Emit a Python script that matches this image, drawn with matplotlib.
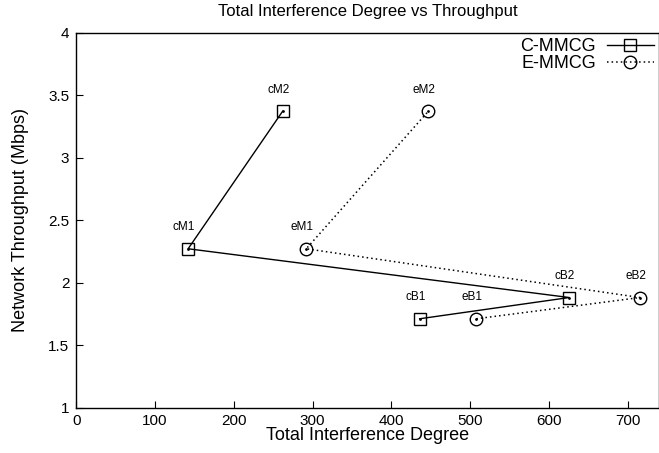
import matplotlib.pyplot as plt

plt.rcParams['font.family'] = ['Liberation Sans', 'DejaVu Sans']

# path order: B1 -> B2 -> M1 -> M2
c_names = ['cB1', 'cB2', 'cM1', 'cM2']
c_x = [436, 626, 142, 262]
c_y = [1.71, 1.88, 2.27, 3.37]

e_names = ['eB1', 'eB2', 'eM1', 'eM2']
e_x = [508, 716, 292, 447]
e_y = [1.71, 1.88, 2.27, 3.37]

x_ticks = [0, 100, 200, 300, 400, 500, 600, 700]
y_ticks = [1, 1.5, 2, 2.5, 3, 3.5, 4]

fig = plt.figure(figsize=(6.59, 4.53), dpi=100)
ax = fig.add_axes([0.1158, 0.1004, 0.8842, 0.8278])

ax.plot(c_x, c_y, color='black', linewidth=1.0, marker='s', markersize=9,
        markerfacecolor='none', markeredgecolor='black', markeredgewidth=1.0,
        label='C-MMCG')
ax.plot(e_x, e_y, color='black', linewidth=1.1, linestyle=(0, (1, 2)),
        marker='o', markersize=9, markerfacecolor='none',
        markeredgecolor='black', markeredgewidth=1.0, label='E-MMCG')
ax.plot(c_x + e_x, c_y + e_y, linestyle='none', marker='.', markersize=2,
        color='black')

for name, x, y in zip(c_names + e_names, c_x + e_x, c_y + e_y):
    ax.annotate(name, (x, y), xytext=(-3, 11), textcoords='offset points',
                ha='center', va='bottom', fontsize=8.5)

ax.set_xlim(0, 740)
ax.set_ylim(1, 4)
ax.set_xticks(x_ticks)
ax.set_yticks(y_ticks)
ax.set_yticklabels(['1', '1.5', '2', '2.5', '3', '3.5', '4'])
ax.tick_params(direction='in', length=5, labelsize=11, top=False, right=False,
               pad=5)
for s in ax.spines.values():
    s.set_linewidth(1.0)

ax.set_xlabel('Total Interference Degree', fontsize=13, labelpad=-1)
ax.set_ylabel('Network Throughput (Mbps)', fontsize=13, labelpad=14)
ax.set_title('Total Interference Degree vs Throughput', fontsize=12, pad=12)

ax.legend(loc='upper right', frameon=False, markerfirst=False, fontsize=13,
          handlelength=2.6, handletextpad=0.6, labelspacing=0.0,
          borderaxespad=0.1, borderpad=0.2)

fig.savefig('out.png', dpi=100)
